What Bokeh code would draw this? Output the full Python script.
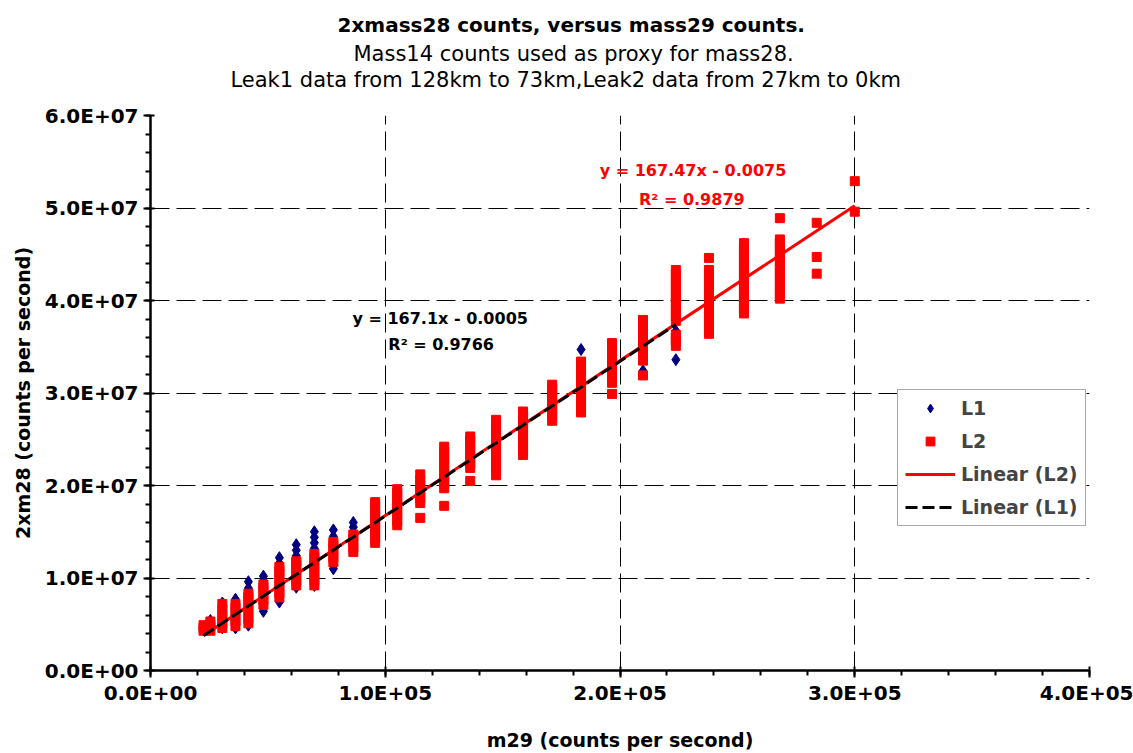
from bokeh.plotting import figure
from bokeh.models import (Range1d, FixedTicker, CustomJSTickFormatter, Label,
                          Legend, LegendItem, ColumnDataSource, Title)
from bokeh.embed import file_html
from bokeh.resources import INLINE

# ---------------- data ----------------
# m29 column positions, thousands of counts per second
L2_x_k = [22.6, 25.5, 30.6, 36.2, 41.7, 48.1, 54.9, 62.1, 69.8, 77.9,
          86.4, 95.7, 105.1, 114.9, 125.1, 136.2, 147.2, 158.7, 171.1, 183.4,
          196.6, 209.8, 223.8, 237.9, 252.8, 268.1, 283.8, 300.0]
# 2xm28 values per column, millions of counts per second
L2_y_M = [
    [4.3, 4.6, 4.9],
    [4.3, 4.7, 5.0, 5.3],
    [4.6, 5.1, 5.6, 6.1, 6.6, 7.2],
    [4.8, 5.3, 5.8, 6.3, 6.8, 7.2],
    [5.1, 5.6, 6.1, 6.6, 7.1, 7.6, 8.0, 8.3],
    [7.1, 7.6, 8.1, 8.6, 9.0, 9.3],
    [7.9, 8.4, 8.9, 9.4, 9.9, 10.4, 10.8, 11.2],
    [9.2, 9.7, 10.2, 10.7, 11.2, 11.6, 11.8],
    [9.2, 9.7, 10.2, 10.7, 11.2, 11.7, 12.2, 12.6],
    [11.7, 12.2, 12.7, 13.2, 13.6, 13.9],
    [12.8, 13.3, 13.8, 14.3, 14.7],
    [13.8, 14.3, 14.8, 15.3, 15.8, 16.3, 16.8, 17.3, 17.8, 18.2],
    [15.7, 16.2, 16.7, 17.2, 17.7, 18.2, 18.7, 19.2, 19.6],
    [16.5, 18.1, 18.6, 19.1, 19.6, 20.1, 20.6, 21.2],
    [17.8, 19.7, 20.2, 20.7, 21.2, 21.7, 22.2, 22.7, 23.2, 23.7, 24.2],
    [20.5, 21.9, 22.4, 22.9, 23.4, 23.9, 24.4, 24.9, 25.3],
    [21.1, 21.6, 22.1, 22.6, 23.1, 23.6, 24.1, 24.6, 25.1, 25.6, 26.1, 26.6, 27.1],
    [23.3, 23.8, 24.3, 24.8, 25.3, 25.8, 26.3, 26.8, 27.3, 27.7, 28.0],
    [27.0, 27.5, 28.0, 28.5, 29.0, 29.5, 30.0, 30.5, 30.9],
    [27.9, 28.4, 28.9, 29.4, 29.9, 30.4, 30.9, 31.4, 31.9, 32.4, 32.9, 33.4],
    [29.9, 31.1, 31.6, 32.1, 32.6, 33.1, 33.6, 34.1, 34.6, 35.0, 35.4],
    [31.9, 33.5, 34.0, 34.5, 35.0, 35.5, 36.0, 36.5, 37.0, 37.5, 37.9],
    [35.1, 35.6, 36.0, 36.3, 37.8, 38.3, 38.8, 39.3, 39.8, 40.3, 40.8, 41.3,
     41.8, 42.3, 42.8, 43.3],
    [36.4, 36.9, 37.4, 37.9, 38.4, 38.9, 39.4, 39.9, 40.4, 40.9, 41.4, 41.9,
     42.4, 42.9, 43.3, 44.6],
    [38.6, 39.1, 39.6, 40.1, 40.6, 41.1, 41.6, 42.1, 42.6, 43.1, 43.6, 44.1,
     44.6, 45.1, 45.6, 46.2],
    [40.2, 40.7, 41.2, 41.7, 42.2, 42.7, 43.2, 43.7, 44.2, 44.7, 45.2, 45.7,
     46.2, 46.6, 48.9],
    [42.9, 44.7, 48.4],
    [49.6, 52.9],
]

L1_x_k = [22.6, 25.5, 30.6, 36.2, 41.7, 48.1, 54.9, 62.1, 69.8, 77.9,
          86.4, 183.4, 196.6, 209.8, 223.8]
L1_y_M = [
    [4.4],
    [4.6, 5.4],
    [4.6, 5.3, 6.0, 6.6, 7.3],
    [4.6, 5.3, 6.0, 6.7, 7.3, 7.7],
    [4.9, 5.6, 6.3, 7.0, 7.7, 8.4, 8.9, 9.6],
    [6.4, 7.1, 7.8, 8.5, 9.2, 9.7, 10.2],
    [7.4, 8.1, 8.8, 9.5, 10.2, 10.9, 11.6, 12.2],
    [9.0, 9.7, 10.4, 11.1, 11.8, 12.4, 13.0, 13.6],
    [9.2, 9.9, 10.6, 11.3, 12.0, 12.6, 13.2, 13.8, 14.4, 15.0],
    [11.0, 11.5, 12.1, 12.7, 13.3, 13.9, 14.5, 15.2],
    [13.6, 14.3, 14.9, 15.5, 16.0],
    [34.7],
    [33.5],
    [32.4],
    [33.6, 36.0, 36.7],
]

# trendline coefficients as printed on the chart
L2_slope, L2_intercept = 167.47, -0.0075
L1_slope, L1_intercept = 167.1, -0.0005
L2_eq = "y = 167.47x - 0.0075"
L2_r2 = "R\u00b2 = 0.9879"
L1_eq = "y = 167.1x - 0.0005"
L1_r2 = "R\u00b2 = 0.9766"

x_ticks = [0, 100000, 200000, 300000, 400000]
x_tick_labels = ["0.0E+00", "1.0E+05", "2.0E+05", "3.0E+05", "4.0E+05"]
x_minor = [20000 * i for i in range(21)]
y_ticks = [0, 10000000, 20000000, 30000000, 40000000, 50000000, 60000000]
y_tick_labels = ["0.0E+00", "1.0E+07", "2.0E+07", "3.0E+07", "4.0E+07",
                 "5.0E+07", "6.0E+07"]
y_minor = [2000000 * i for i in range(31)]

title_lines = ["2xmass28 counts, versus mass29 counts.",
               "Mass14 counts used as proxy for mass28.",
               "Leak1 data from 128km to 73km,Leak2 data from 27km to 0km"]


def flatten(xs_k, ys_m):
    xs, ys = [], []
    for xk, col in zip(xs_k, ys_m):
        for ym in col:
            xs.append(xk * 1e3)
            ys.append(ym * 1e6)
    return xs, ys


l1x, l1y = flatten(L1_x_k, L1_y_M)
l2x, l2y = flatten(L2_x_k, L2_y_M)

FONT = "DejaVu Sans"

p = figure(width=1133, height=753, output_backend="svg", toolbar_location=None,
           x_range=Range1d(0, 400000), y_range=Range1d(0, 60000000),
           min_border_left=150, min_border_right=44, min_border_top=115,
           min_border_bottom=82)
p.outline_line_color = None
p.background_fill_color = "white"
p.border_fill_color = "white"

# axes
for ax, ticks, labels, minor in ((p.xaxis[0], x_ticks, x_tick_labels, x_minor),
                                 (p.yaxis[0], y_ticks, y_tick_labels, y_minor)):
    ax.ticker = FixedTicker(ticks=ticks, minor_ticks=minor)
    ax.formatter = CustomJSTickFormatter(
        args=dict(t=ticks, l=labels),
        code="const i = t.indexOf(tick); return i >= 0 ? l[i] : '';")
    ax.axis_line_width = 2.5
    ax.axis_line_color = "black"
    ax.major_tick_line_width = 2
    ax.major_tick_line_color = "black"
    ax.minor_tick_line_width = 2
    ax.minor_tick_line_color = "black"
    ax.major_tick_in = 4
    ax.major_tick_out = 7
    ax.minor_tick_in = 0
    ax.minor_tick_out = 5
    ax.major_label_text_font = FONT
    ax.major_label_text_font_style = "bold"
    ax.major_label_text_font_size = "20px"
    ax.major_label_text_color = "black"
    ax.axis_label_text_font = FONT
    ax.axis_label_text_font_style = "bold"
    ax.axis_label_text_font_size = "19px"
    ax.axis_label_text_color = "black"

p.xaxis.axis_label = "m29 (counts per second)"
p.yaxis.axis_label = "2xm28 (counts per second)"
p.xaxis.major_label_standoff = 3
p.xaxis.axis_label_standoff = 21
p.yaxis.major_label_standoff = 5
p.yaxis.axis_label_standoff = 8

for g in (p.xgrid[0], p.ygrid[0]):
    g.grid_line_color = "black"
    g.grid_line_width = 1
    g.grid_line_dash = "19 7"
p.xgrid.ticker = FixedTicker(ticks=x_ticks)
p.ygrid.ticker = FixedTicker(ticks=y_ticks)

# data
src1 = ColumnDataSource(dict(x=l1x, y=l1y))
src2 = ColumnDataSource(dict(x=l2x, y=l2y))
r1 = p.scatter("x", "y", source=src1, marker="diamond", size=12,
               fill_color="#000080", line_color="#000080")
r2 = p.scatter("x", "y", source=src2, marker="square", size=9,
               fill_color="#FF0000", line_color="#FF0000")

# trendlines
x2 = [min(l2x), max(l2x)]
y2 = [L2_slope * v + L2_intercept for v in x2]
x1 = [min(l1x), max(l1x)]
y1 = [L1_slope * v + L1_intercept for v in x1]
r3 = p.line(x2, y2, line_color="#FF0000", line_width=3)
r4 = p.line(x1, y1, line_color="black", line_width=3, line_dash="12 5")

# equations
for x, y, txt, col in ((231100, 54100000, L2_eq, "#FF0000"),
                       (230600, 50900000, L2_r2, "#FF0000"),
                       (123400, 38100000, L1_eq, "black"),
                       (123800, 35200000, L1_r2, "black")):
    p.add_layout(Label(x=x, y=y, text=txt, text_color=col, text_font=FONT,
                       text_font_style="bold", text_font_size="16px",
                       text_align="center", text_baseline="middle"))

# titles: first added sits nearest the frame (blank spacer first)
p.add_layout(Title(text=" ", text_font=FONT, text_font_size="4px",
                   standoff=17), "above")
p.add_layout(Title(text=title_lines[2], text_font=FONT, text_font_style="normal",
                   text_font_size="21px", text_color="black", align="left",
                   offset=80, standoff=0), "above")
p.add_layout(Title(text=title_lines[1], text_font=FONT, text_font_style="normal",
                   text_font_size="21px", text_color="black", align="left",
                   offset=203, standoff=0), "above")
p.add_layout(Title(text=title_lines[0], text_font=FONT, text_font_style="bold",
                   text_font_size="20px", text_color="black", align="left",
                   offset=187, standoff=6), "above")
p.add_layout(Title(text=" ", text_font=FONT, text_font_size="4px",
                   standoff=0), "above")

legend = Legend(items=[LegendItem(label="L1", renderers=[r1]),
                       LegendItem(label="L2", renderers=[r2]),
                       LegendItem(label="Linear (L2)", renderers=[r3]),
                       LegendItem(label="Linear (L1)", renderers=[r4])],
                location=(747, 144))
legend.margin = 0
legend.padding = 7
legend.spacing = 11
legend.glyph_height = 22
legend.glyph_width = 50
legend.label_height = 22
legend.label_standoff = 6
legend.label_text_font = FONT
legend.label_text_font_style = "bold"
legend.label_text_font_size = "19px"
legend.border_line_color = "#555555"
legend.border_line_width = 1
legend.background_fill_color = "white"
legend.background_fill_alpha = 1
p.add_layout(legend)

open("out.html", "w").write(file_html(p, INLINE))
